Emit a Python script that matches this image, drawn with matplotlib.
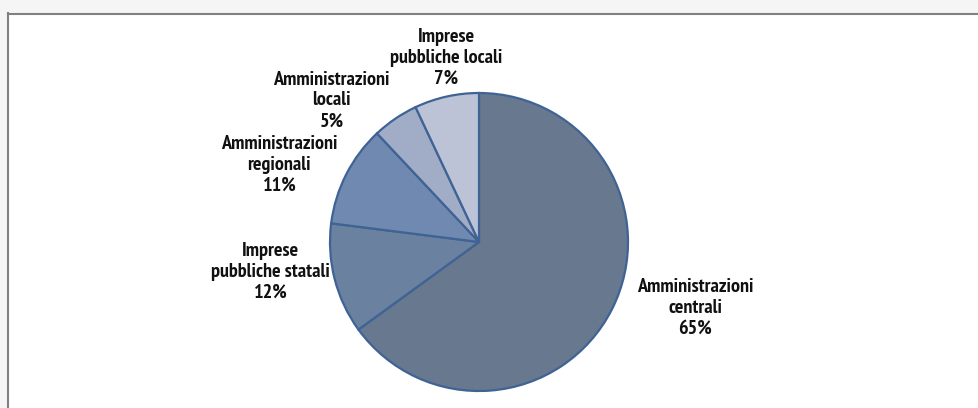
import matplotlib
matplotlib.use('Agg')
import matplotlib.pyplot as plt
from matplotlib.lines import Line2D
from matplotlib.patches import Rectangle

# --- DATA ---
categories = ['Amministrazioni\ncentrali', 'Imprese\npubbliche statali',
              'Amministrazioni\nregionali', 'Amministrazioni\nlocali',
              'Imprese\npubbliche locali']
shares = [65, 12, 11, 5, 7]
colors = ['#67788f', '#6b81a0', '#7089b0', '#a1adc7', '#bcc3d7']
# label centres, relative to pie centre in units of radius
label_pos = [(1.45, -0.44), (-1.40, -0.20), (-1.34, 0.52),
             (-0.99, 0.95), (-0.22, 1.235)]

plt.rcParams['font.family'] = ['PT Sans Narrow', 'Roboto Condensed', 'DejaVu Sans']

W, H, DPI = 979, 408, 100
cx, cy, r = 479, 242, 149  # pie centre and radius in pixels

fig = plt.figure(figsize=(W / DPI, H / DPI), dpi=DPI)
fig.patch.set_facecolor('white')

# light border shading and the outer frame lines
fig.add_artist(Rectangle((0, 1 - 13 / H), 1, 13 / H, transform=fig.transFigure,
                         facecolor='#f5f5f5', edgecolor='none'))
fig.add_artist(Rectangle((0, 0), 8 / W, 1, transform=fig.transFigure,
                         facecolor='#f5f5f5', edgecolor='none'))
fig.add_artist(Line2D([8.5 / W, 8.5 / W], [0, 1 - 13 / H], transform=fig.transFigure,
                      color='#808080', lw=1.5))
fig.add_artist(Line2D([8 / W, 1], [1 - 13.5 / H, 1 - 13.5 / H], transform=fig.transFigure,
                      color='#808080', lw=1.5))

ax = fig.add_axes([0, 0, 1, 1])
ax.pie(shares, colors=colors, startangle=90, counterclock=False, radius=1,
       wedgeprops=dict(edgecolor='#3f6394', linewidth=1.6))

for cat, val, (lx, ly) in zip(categories, shares, label_pos):
    ax.text(lx, ly, f'{cat}\n{val}%', ha='center', va='center',
            fontsize=14.5, fontweight='bold', color='#111111', linespacing=1.2)

ax.set_xlim(-cx / r, (W - cx) / r)
ax.set_ylim(-(H - cy) / r, cy / r)
ax.set_aspect('auto')
ax.axis('off')

fig.savefig('out.png', dpi=DPI)
